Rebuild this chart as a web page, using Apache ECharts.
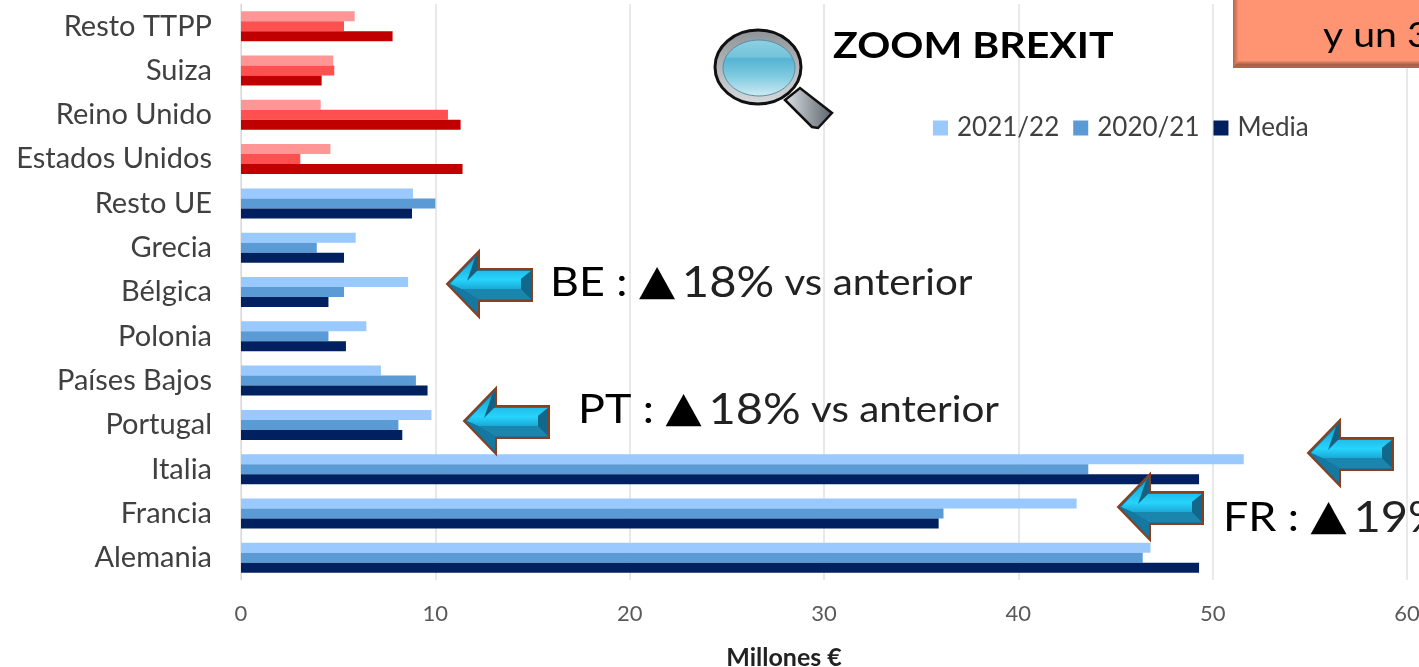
<!doctype html>
<html lang="es">
  <head>
    <meta charset="UTF-8" />
    <title>Zoom Brexit</title>
    <script src="https://cdn.jsdelivr.net/npm/echarts@6/dist/echarts.min.js"></script>
    <style>
      html, body { margin: 0; background: #fff; overflow: hidden; }
    </style>
  </head>
  <body>
    <div id="chart" style="width: 1419px; height: 667px"></div>
    <script>
      const categories = ['Resto TTPP', 'Suiza', 'Reino Unido', 'Estados Unidos', 'Resto UE', 'Grecia', 'Bélgica', 'Polonia', 'Países Bajos', 'Portugal', 'Italia', 'Francia', 'Alemania'];
      const values2122 = [5.85, 4.75, 4.1, 4.6, 8.85, 5.9, 8.6, 6.45, 7.2, 9.8, 51.6, 43, 46.8];
      const values2021 = [5.3, 4.8, 10.65, 3.05, 10, 3.9, 5.3, 4.5, 9, 8.1, 43.6, 36.15, 46.4];
      const valuesMedia = [7.8, 4.15, 11.3, 11.4, 8.8, 5.3, 4.5, 5.4, 9.6, 8.3, 49.3, 35.9, 49.3];
      const redCategories = ['Resto TTPP', 'Suiza', 'Reino Unido', 'Estados Unidos'];

      const FONT = 'Lato, "Noto Sans", sans-serif';
      const Z = 10;

      const vGrad = (stops) => ({
        type: 'linear', x: 0, y: 0, x2: 0, y2: 1,
        colorStops: stops.map((s) => ({ offset: s[0], color: s[1] })),
      });
      const hGrad = (stops) => ({
        type: 'linear', x: 0, y: 0, x2: 1, y2: 0,
        colorStops: stops.map((s) => ({ offset: s[0], color: s[1] })),
      });

      // blue for the EU rows, red for the Brexit zoom rows
      const makeSeries = (name, values, blue, red) => ({
        name: name,
        type: 'bar',
        barWidth: 10,
        barGap: 0,
        itemStyle: { color: blue },
        data: values.map((v, i) => ({
          value: v,
          itemStyle: { color: redCategories.includes(categories[i]) ? red : blue },
        })),
      });

      const poly = (points, fill, extra) => ({
        type: 'polygon',
        z: Z,
        shape: { points: points },
        style: Object.assign({ fill: fill }, extra),
      });

      // left pointing bevelled arrow, x/y is the top left corner of its box
      const arrow = (x, y) => ({
        type: 'group',
        x: x,
        y: y,
        silent: true,
        children: [
          poly([[0, 33], [32, 0], [32, 18], [85, 18], [85, 50], [32, 50], [32, 66]], '#17749a', { stroke: '#8a3f1e', lineWidth: 2 }),
          poly([[3, 33], [28, 7], [26, 20], [84, 20], [74, 28], [74, 38], [14, 38]], vGrad([[0, '#1a9fd0'], [0.7, '#26d4fc'], [1, '#1ba9d6']])),
          poly([[28, 7], [31, 3], [31, 19], [20, 30]], '#15607f'),
          poly([[14, 38], [74, 38], [84, 48], [31, 48]], '#1a86ae'),
          poly([[74, 28], [84, 20], [84, 48], [74, 38]], '#12688a'),
          poly([[3, 33], [14, 38], [31, 48], [31, 62]], '#1578a0'),
        ],
      });

      const note = (x, y, parts) => ({
        type: 'text',
        x: x,
        y: y,
        scaleX: 1.12,
        z: Z,
        silent: true,
        style: {
          text: parts,
          fill: '#000',
          font: '40px ' + FONT,
          verticalAlign: 'middle',
          rich: {
            big: { fontSize: 40, fontFamily: FONT, fill: '#000' },
            num: { fontSize: 42, fontFamily: FONT, fill: '#222' },
            tri: { fontSize: 42, fontFamily: '"DejaVu Sans"', fill: '#000', padding: [0, 6, 0, 0] },
            small: { fontSize: 36, fontFamily: FONT, fill: '#222' },
          },
        },
      });

      const lens = {
        type: 'group',
        silent: true,
        children: [
          poly([[785, 100], [800, 88], [832, 113], [818, 128], [812, 127]], hGrad([[0, '#dfe3e6'], [0.6, '#8e959a'], [1, '#59606a']]), { stroke: '#111', lineWidth: 2.5 }),
          { type: 'ellipse', z: Z, shape: { cx: 758, cy: 67, rx: 43, ry: 37 }, style: { fill: vGrad([[0, '#8d9296'], [1, '#d8dbde']]), stroke: '#111', lineWidth: 3 } },
          { type: 'ellipse', z: Z, shape: { cx: 759, cy: 68, rx: 36, ry: 28 }, style: { fill: vGrad([[0, '#8fd0e2'], [0.3, '#74c3da'], [0.34, '#55b4d3'], [0.65, '#7fcbe0'], [1, '#d0ecf3']]), stroke: '#5a8ea3', lineWidth: 1 } },
        ],
      };

      const orangeBox = {
        type: 'group',
        silent: true,
        children: [
          { type: 'rect', z: Z, shape: { x: 1233, y: -4, width: 200, height: 72 }, style: { fill: '#ff9472' } },
          { type: 'rect', z: Z, shape: { x: 1233, y: -4, width: 5, height: 72 }, style: { fill: hGrad([[0, '#b5674c'], [1, '#f08a68']]) } },
          poly([[1233, 68], [1238, 61], [1425, 61], [1425, 68]], vGrad([[0, '#f08a68'], [0.5, '#a8604a'], [1, '#b5674c']])),
          { type: 'text', z: Z, x: 1323, y: 36, scaleX: 1.12, style: { text: 'y un 3', fill: '#000', font: '35px ' + FONT, verticalAlign: 'middle' } },
        ],
      };

      const chart = echarts.init(document.getElementById('chart'), null, { renderer: 'canvas' });
      chart.setOption({
        animation: false,
        textStyle: { fontFamily: FONT },
        legend: {
          left: 928,
          top: 110,
          itemWidth: 15,
          itemHeight: 15,
          itemGap: 14,
          icon: 'rect',
          selectedMode: false,
          textStyle: { fontSize: 26, color: '#404040', fontFamily: FONT, padding: [0, 0, 0, 4] },
          data: ['2021/22', '2020/21', 'Media'],
        },
        grid: { left: 241, top: 4, width: 1166, height: 576, outerBoundsMode: 'none' },
        xAxis: {
          type: 'value',
          min: 0,
          max: 60,
          interval: 10,
          position: 'bottom',
          name: 'Millones €',
          nameLocation: 'middle',
          nameGap: 65,
          nameTextStyle: { fontSize: 25, fontWeight: 'bold', color: '#222', fontFamily: FONT, padding: [0, 80, 0, 0] },
          axisLine: { show: false },
          axisTick: { show: false },
          axisLabel: { fontSize: 22, color: '#595959', margin: 23, hideOverlap: false },
          splitLine: { lineStyle: { color: '#e8e8e8', width: 2 } },
        },
        yAxis: {
          type: 'category',
          inverse: true,
          data: categories,
          axisLine: { lineStyle: { color: '#d9d9d9', width: 1 } },
          axisTick: { show: false },
          axisLabel: { fontSize: 29, color: '#404040', margin: 29 },
        },
        series: [
          makeSeries('2021/22', values2122, '#99c9ff', '#ff9696'),
          makeSeries('2020/21', values2021, '#5b9bd5', '#ff5050'),
          makeSeries('Media', valuesMedia, '#002060', '#c00000'),
        ],
        graphic: [
          lens,
          { type: 'text', x: 833, y: 46, scaleX: 1.14, z: Z, silent: true, style: { text: 'ZOOM BREXIT', fill: '#000', font: 'bold 36px ' + FONT, verticalAlign: 'middle' } },
          orangeBox,
          arrow(447, 251),
          note(550, 283, '{big|BE : }{tri|▲}{num|18%}{small| vs anterior}'),
          arrow(464, 388),
          note(578, 410, '{big|PT : }{tri|▲}{num|18%}{small| vs anterior}'),
          arrow(1308, 420),
          arrow(1118, 474),
          note(1223, 518, '{big|FR : }{tri|▲}{num|19%}'),
        ],
      });
    </script>
  </body>
</html>
